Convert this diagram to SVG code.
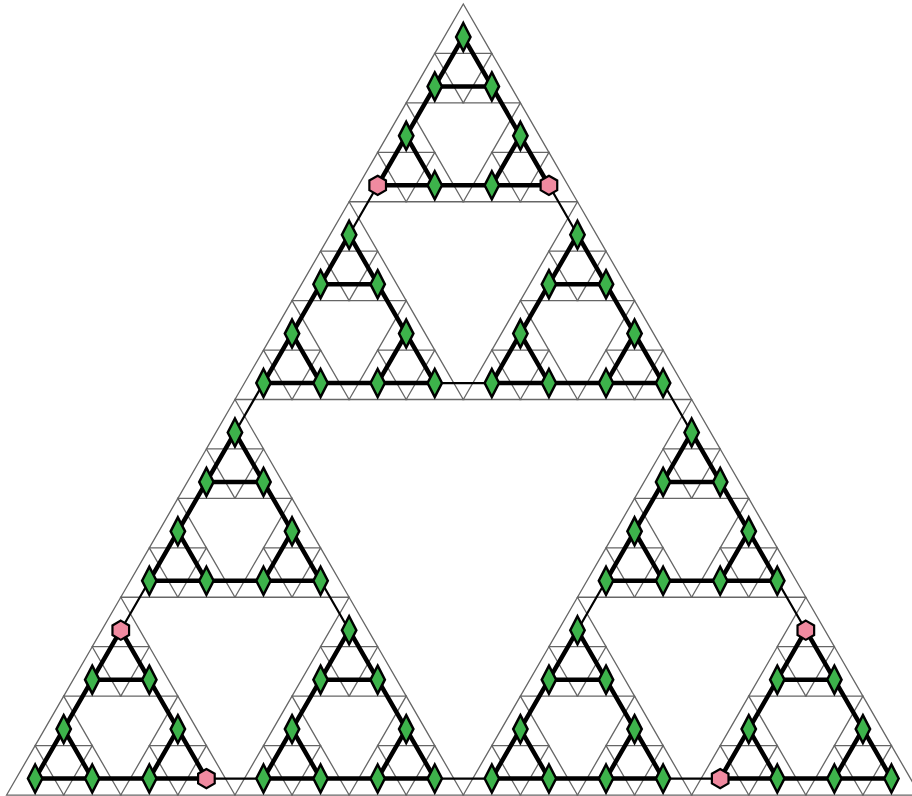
<svg xmlns="http://www.w3.org/2000/svg" xmlns:xlink="http://www.w3.org/1999/xlink" width="912" height="796" viewBox="0 0 912 796">
<style>
.thick{stroke:#000;stroke-width:4.5;stroke-linecap:round;fill:none}
.thin{stroke:#000;stroke-width:2.2;stroke-linecap:round;fill:none}
.dia{fill:#3db34b;stroke:#000;stroke-width:2.5;stroke-linejoin:miter;stroke-miterlimit:10}
.hex{fill:#f08aa0;stroke:#000;stroke-width:2.2;stroke-linejoin:miter}
</style>
<defs>
<polygon id="t0" points="0,0 -28.544,49.439 28.544,49.439" fill="none" stroke="#666" stroke-width="1.3"/>
<g id="t1"><use href="#t0"/><use href="#t0" x="-28.544" y="49.439"/><use href="#t0" x="28.544" y="49.439"/></g>
<g id="t2"><use href="#t1"/><use href="#t1" x="-57.088" y="98.879"/><use href="#t1" x="57.088" y="98.879"/></g>
<g id="t3"><use href="#t2"/><use href="#t2" x="-114.175" y="197.757"/><use href="#t2" x="114.175" y="197.757"/></g>
<g id="t4"><use href="#t3"/><use href="#t3" x="-228.35" y="395.514"/><use href="#t3" x="228.35" y="395.514"/></g>
<polygon id="dia" class="dia" points="0,-14 7.2,0 0,14 -7.2,0"/>
<polygon id="hex" class="hex" points="0,-9.6 8.31,-4.8 8.31,4.8 0,9.6 -8.31,4.8 -8.31,-4.8"/>
</defs>
<rect width="912" height="796" fill="#fff"/>
<g id="mesh">
<use href="#t4" x="463.3" y="4"/>
</g>
<g id="connectors">
<g id="edges-thick">
<line class="thick" x1="463.30" y1="36.96" x2="377.67" y2="185.28"/>
<line class="thick" x1="463.30" y1="36.96" x2="548.93" y2="185.28"/>
<line class="thick" x1="377.67" y1="185.28" x2="548.93" y2="185.28"/>
<line class="thick" x1="434.76" y1="86.40" x2="491.84" y2="86.40"/>
<line class="thick" x1="406.21" y1="135.84" x2="434.76" y2="185.28"/>
<line class="thick" x1="520.39" y1="135.84" x2="491.84" y2="185.28"/>

<line class="thick" x1="349.13" y1="234.72" x2="263.49" y2="383.03"/>
<line class="thick" x1="349.13" y1="234.72" x2="434.76" y2="383.03"/>
<line class="thick" x1="263.49" y1="383.03" x2="434.76" y2="383.03"/>
<line class="thick" x1="320.58" y1="284.16" x2="377.67" y2="284.16"/>
<line class="thick" x1="292.04" y1="333.60" x2="320.58" y2="383.03"/>
<line class="thick" x1="406.21" y1="333.60" x2="377.67" y2="383.03"/>

<line class="thick" x1="577.48" y1="234.72" x2="491.84" y2="383.03"/>
<line class="thick" x1="577.48" y1="234.72" x2="663.11" y2="383.03"/>
<line class="thick" x1="491.84" y1="383.03" x2="663.11" y2="383.03"/>
<line class="thick" x1="548.93" y1="284.16" x2="606.02" y2="284.16"/>
<line class="thick" x1="520.39" y1="333.60" x2="548.93" y2="383.03"/>
<line class="thick" x1="634.56" y1="333.60" x2="606.02" y2="383.03"/>

<line class="thick" x1="234.95" y1="432.47" x2="149.32" y2="580.79"/>
<line class="thick" x1="234.95" y1="432.47" x2="320.58" y2="580.79"/>
<line class="thick" x1="149.32" y1="580.79" x2="320.58" y2="580.79"/>
<line class="thick" x1="206.41" y1="481.91" x2="263.49" y2="481.91"/>
<line class="thick" x1="177.86" y1="531.35" x2="206.41" y2="580.79"/>
<line class="thick" x1="292.04" y1="531.35" x2="263.49" y2="580.79"/>

<line class="thick" x1="120.78" y1="630.23" x2="35.14" y2="778.55"/>
<line class="thick" x1="120.78" y1="630.23" x2="206.41" y2="778.55"/>
<line class="thick" x1="35.14" y1="778.55" x2="206.41" y2="778.55"/>
<line class="thick" x1="92.23" y1="679.67" x2="149.32" y2="679.67"/>
<line class="thick" x1="63.69" y1="729.11" x2="92.23" y2="778.55"/>
<line class="thick" x1="177.86" y1="729.11" x2="149.32" y2="778.55"/>

<line class="thick" x1="349.13" y1="630.23" x2="263.49" y2="778.55"/>
<line class="thick" x1="349.13" y1="630.23" x2="434.76" y2="778.55"/>
<line class="thick" x1="263.49" y1="778.55" x2="434.76" y2="778.55"/>
<line class="thick" x1="320.58" y1="679.67" x2="377.67" y2="679.67"/>
<line class="thick" x1="292.04" y1="729.11" x2="320.58" y2="778.55"/>
<line class="thick" x1="406.21" y1="729.11" x2="377.67" y2="778.55"/>

<line class="thick" x1="691.65" y1="432.47" x2="606.02" y2="580.79"/>
<line class="thick" x1="691.65" y1="432.47" x2="777.28" y2="580.79"/>
<line class="thick" x1="606.02" y1="580.79" x2="777.28" y2="580.79"/>
<line class="thick" x1="663.11" y1="481.91" x2="720.19" y2="481.91"/>
<line class="thick" x1="634.56" y1="531.35" x2="663.11" y2="580.79"/>
<line class="thick" x1="748.74" y1="531.35" x2="720.19" y2="580.79"/>

<line class="thick" x1="577.48" y1="630.23" x2="491.84" y2="778.55"/>
<line class="thick" x1="577.48" y1="630.23" x2="663.11" y2="778.55"/>
<line class="thick" x1="491.84" y1="778.55" x2="663.11" y2="778.55"/>
<line class="thick" x1="548.93" y1="679.67" x2="606.02" y2="679.67"/>
<line class="thick" x1="520.39" y1="729.11" x2="548.93" y2="778.55"/>
<line class="thick" x1="634.56" y1="729.11" x2="606.02" y2="778.55"/>

<line class="thick" x1="805.83" y1="630.23" x2="720.19" y2="778.55"/>
<line class="thick" x1="805.83" y1="630.23" x2="891.46" y2="778.55"/>
<line class="thick" x1="720.19" y1="778.55" x2="891.46" y2="778.55"/>
<line class="thick" x1="777.28" y1="679.67" x2="834.37" y2="679.67"/>
<line class="thick" x1="748.74" y1="729.11" x2="777.28" y2="778.55"/>
<line class="thick" x1="862.91" y1="729.11" x2="834.37" y2="778.55"/>
</g>
<g id="edges-thin">
<line class="thin" x1="377.67" y1="185.28" x2="349.13" y2="234.72"/>
<line class="thin" x1="548.93" y1="185.28" x2="577.48" y2="234.72"/>
<line class="thin" x1="434.76" y1="383.03" x2="491.84" y2="383.03"/>
<line class="thin" x1="149.32" y1="580.79" x2="120.78" y2="630.23"/>
<line class="thin" x1="320.58" y1="580.79" x2="349.13" y2="630.23"/>
<line class="thin" x1="206.41" y1="778.55" x2="263.49" y2="778.55"/>
<line class="thin" x1="606.02" y1="580.79" x2="577.48" y2="630.23"/>
<line class="thin" x1="777.28" y1="580.79" x2="805.83" y2="630.23"/>
<line class="thin" x1="663.11" y1="778.55" x2="720.19" y2="778.55"/>
<line class="thin" x1="263.49" y1="383.03" x2="234.95" y2="432.47"/>
<line class="thin" x1="663.11" y1="383.03" x2="691.65" y2="432.47"/>
<line class="thin" x1="434.76" y1="778.55" x2="491.84" y2="778.55"/>
</g>
</g>
<g id="nodes">
<g id="n0-0"><use href="#dia" x="463.30" y="36.96"/></g>
<g id="n1-0"><use href="#dia" x="434.76" y="86.40"/></g>
<g id="n1-1"><use href="#dia" x="491.84" y="86.40"/></g>
<g id="n2-0"><use href="#dia" x="406.21" y="135.84"/></g>
<g id="n2-2"><use href="#dia" x="520.39" y="135.84"/></g>
<g id="n3-0"><use href="#hex" x="377.67" y="185.28"/></g>
<g id="n3-1"><use href="#dia" x="434.76" y="185.28"/></g>
<g id="n3-2"><use href="#dia" x="491.84" y="185.28"/></g>
<g id="n3-3"><use href="#hex" x="548.93" y="185.28"/></g>

<g id="n4-0"><use href="#dia" x="349.13" y="234.72"/></g>
<g id="n5-0"><use href="#dia" x="320.58" y="284.16"/></g>
<g id="n5-1"><use href="#dia" x="377.67" y="284.16"/></g>
<g id="n6-0"><use href="#dia" x="292.04" y="333.60"/></g>
<g id="n6-2"><use href="#dia" x="406.21" y="333.60"/></g>
<g id="n7-0"><use href="#dia" x="263.49" y="383.03"/></g>
<g id="n7-1"><use href="#dia" x="320.58" y="383.03"/></g>
<g id="n7-2"><use href="#dia" x="377.67" y="383.03"/></g>
<g id="n7-3"><use href="#dia" x="434.76" y="383.03"/></g>

<g id="n4-4"><use href="#dia" x="577.48" y="234.72"/></g>
<g id="n5-4"><use href="#dia" x="548.93" y="284.16"/></g>
<g id="n5-5"><use href="#dia" x="606.02" y="284.16"/></g>
<g id="n6-4"><use href="#dia" x="520.39" y="333.60"/></g>
<g id="n6-6"><use href="#dia" x="634.56" y="333.60"/></g>
<g id="n7-4"><use href="#dia" x="491.84" y="383.03"/></g>
<g id="n7-5"><use href="#dia" x="548.93" y="383.03"/></g>
<g id="n7-6"><use href="#dia" x="606.02" y="383.03"/></g>
<g id="n7-7"><use href="#dia" x="663.11" y="383.03"/></g>

<g id="n8-0"><use href="#dia" x="234.95" y="432.47"/></g>
<g id="n9-0"><use href="#dia" x="206.41" y="481.91"/></g>
<g id="n9-1"><use href="#dia" x="263.49" y="481.91"/></g>
<g id="n10-0"><use href="#dia" x="177.86" y="531.35"/></g>
<g id="n10-2"><use href="#dia" x="292.04" y="531.35"/></g>
<g id="n11-0"><use href="#dia" x="149.32" y="580.79"/></g>
<g id="n11-1"><use href="#dia" x="206.41" y="580.79"/></g>
<g id="n11-2"><use href="#dia" x="263.49" y="580.79"/></g>
<g id="n11-3"><use href="#dia" x="320.58" y="580.79"/></g>

<g id="n12-0"><use href="#hex" x="120.78" y="630.23"/></g>
<g id="n13-0"><use href="#dia" x="92.23" y="679.67"/></g>
<g id="n13-1"><use href="#dia" x="149.32" y="679.67"/></g>
<g id="n14-0"><use href="#dia" x="63.69" y="729.11"/></g>
<g id="n14-2"><use href="#dia" x="177.86" y="729.11"/></g>
<g id="n15-0"><use href="#dia" x="35.14" y="778.55"/></g>
<g id="n15-1"><use href="#dia" x="92.23" y="778.55"/></g>
<g id="n15-2"><use href="#dia" x="149.32" y="778.55"/></g>
<g id="n15-3"><use href="#hex" x="206.41" y="778.55"/></g>

<g id="n12-4"><use href="#dia" x="349.13" y="630.23"/></g>
<g id="n13-4"><use href="#dia" x="320.58" y="679.67"/></g>
<g id="n13-5"><use href="#dia" x="377.67" y="679.67"/></g>
<g id="n14-4"><use href="#dia" x="292.04" y="729.11"/></g>
<g id="n14-6"><use href="#dia" x="406.21" y="729.11"/></g>
<g id="n15-4"><use href="#dia" x="263.49" y="778.55"/></g>
<g id="n15-5"><use href="#dia" x="320.58" y="778.55"/></g>
<g id="n15-6"><use href="#dia" x="377.67" y="778.55"/></g>
<g id="n15-7"><use href="#dia" x="434.76" y="778.55"/></g>

<g id="n8-8"><use href="#dia" x="691.65" y="432.47"/></g>
<g id="n9-8"><use href="#dia" x="663.11" y="481.91"/></g>
<g id="n9-9"><use href="#dia" x="720.19" y="481.91"/></g>
<g id="n10-8"><use href="#dia" x="634.56" y="531.35"/></g>
<g id="n10-10"><use href="#dia" x="748.74" y="531.35"/></g>
<g id="n11-8"><use href="#dia" x="606.02" y="580.79"/></g>
<g id="n11-9"><use href="#dia" x="663.11" y="580.79"/></g>
<g id="n11-10"><use href="#dia" x="720.19" y="580.79"/></g>
<g id="n11-11"><use href="#dia" x="777.28" y="580.79"/></g>

<g id="n12-8"><use href="#dia" x="577.48" y="630.23"/></g>
<g id="n13-8"><use href="#dia" x="548.93" y="679.67"/></g>
<g id="n13-9"><use href="#dia" x="606.02" y="679.67"/></g>
<g id="n14-8"><use href="#dia" x="520.39" y="729.11"/></g>
<g id="n14-10"><use href="#dia" x="634.56" y="729.11"/></g>
<g id="n15-8"><use href="#dia" x="491.84" y="778.55"/></g>
<g id="n15-9"><use href="#dia" x="548.93" y="778.55"/></g>
<g id="n15-10"><use href="#dia" x="606.02" y="778.55"/></g>
<g id="n15-11"><use href="#dia" x="663.11" y="778.55"/></g>

<g id="n12-12"><use href="#hex" x="805.83" y="630.23"/></g>
<g id="n13-12"><use href="#dia" x="777.28" y="679.67"/></g>
<g id="n13-13"><use href="#dia" x="834.37" y="679.67"/></g>
<g id="n14-12"><use href="#dia" x="748.74" y="729.11"/></g>
<g id="n14-14"><use href="#dia" x="862.91" y="729.11"/></g>
<g id="n15-12"><use href="#hex" x="720.19" y="778.55"/></g>
<g id="n15-13"><use href="#dia" x="777.28" y="778.55"/></g>
<g id="n15-14"><use href="#dia" x="834.37" y="778.55"/></g>
<g id="n15-15"><use href="#dia" x="891.46" y="778.55"/></g>
</g>
</svg>
